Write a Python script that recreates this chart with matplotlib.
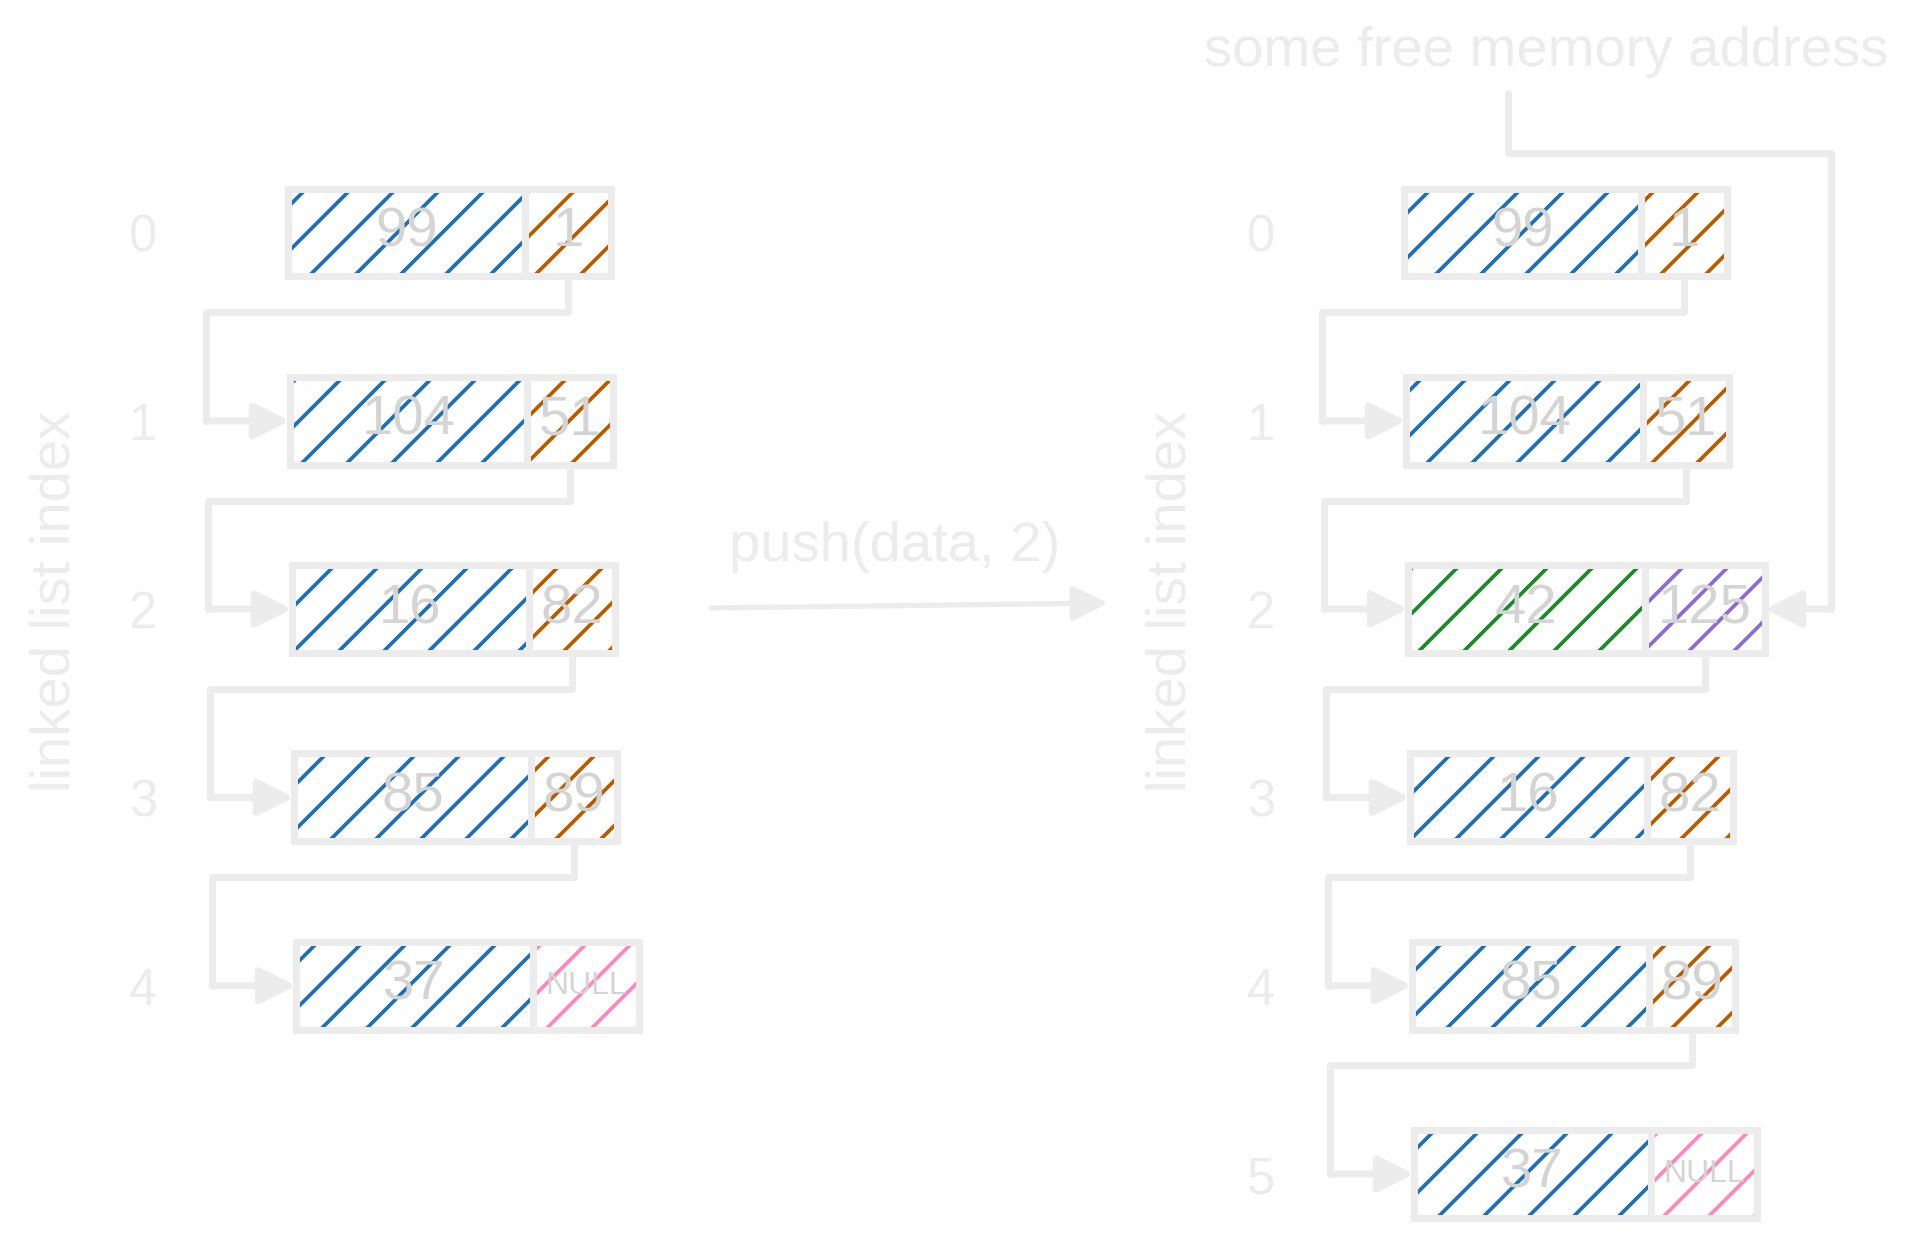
import matplotlib
matplotlib.use("Agg")
import matplotlib.pyplot as plt


# linked list before / after the push
values_before = [99, 104, 16, 85, 37]
next_before = ["1", "51", "82", "89", "NULL"]
values_after = [99, 104, 42, 16, 85, 37]
next_after = ["1", "51", "125", "82", "89", "NULL"]
inserted_row = 2

op_label = "push(data, 2)"
free_label = "some free memory address"
axis_label = "linked list index"

W, H, DPI = 1906, 1237, 135

light = "#ececec"
value_txt = "#d4d4d4"
blue = "#1f6fb4"
orange = "#b85c00"
green = "#1a8a2a"
purple = "#8a6bd8"
pink = "#ff88b8"

plt.rcParams["font.family"] = ["Liberation Sans", "DejaVu Sans"]
plt.rcParams["hatch.linewidth"] = 2.0

# vertical layout: row centers in pixels
row0_px = 232.5
row_px = 188.3
y_top = -row0_px / row_px
y_bot = (H - row0_px) / row_px

bar_h = 0.467
data_w = 237
lw = 3.7
arrow_style = "-|>,head_length=0.8,head_width=0.4"


def ptr_width(lab):
    if lab == "NULL":
        return 106
    if len(lab) > 2:
        return 120
    return 86


fig = plt.figure(figsize=(W / DPI, H / DPI), dpi=DPI)

bg = fig.add_axes([0, 0, 1, 1])
bg.set_xlim(0, W)
bg.set_ylim(H, 0)
bg.axis("off")


def panel(x0, x1, vals, nexts, box_x0, label_x, new=None):
    ax = fig.add_axes([x0 / W, 0, (x1 - x0) / W, 1])
    ax.set_facecolor("none")
    ax.set_xlim(x0, x1)
    ax.set_ylim(y_bot, y_top)
    for s in ax.spines.values():
        s.set_visible(False)
    ax.set_xticks([])

    rows = list(range(len(vals)))
    ax.set_yticks(rows)
    ax.tick_params(axis="y", length=0, pad=7, labelsize=27, labelcolor=light)
    ax.set_ylabel(axis_label, fontsize=30, color=light, va="center")
    ax.yaxis.set_label_coords((label_x - x0) / (x1 - x0), 1 - 601 / H)

    lefts = [box_x0 + 2 * i for i in rows]
    pw = [ptr_width(n) for n in nexts]
    plefts = [l + data_w for l in lefts]
    vcol = [green if i == new else blue for i in rows]
    pcol = []
    for i, n in zip(rows, nexts):
        if i == new:
            pcol.append(purple)
        elif n == "NULL":
            pcol.append(pink)
        else:
            pcol.append(orange)

    # hatched cells
    ax.barh(rows, data_w, left=lefts, height=bar_h, color="white",
            edgecolor=vcol, hatch="/", linewidth=0)
    ax.barh(rows, pw, left=plefts, height=bar_h, color="white",
            edgecolor=pcol, hatch="/", linewidth=0)
    # cell borders
    ax.barh(rows, data_w, left=lefts, height=bar_h, fill=False,
            edgecolor=light, linewidth=lw)
    ax.barh(rows, pw, left=plefts, height=bar_h, fill=False,
            edgecolor=light, linewidth=lw)

    for i in rows:
        ax.text(lefts[i] + data_w / 2, i, str(vals[i]), ha="center",
                va="center", fontsize=30, color=value_txt)
        fs = 17 if nexts[i] == "NULL" else 30
        ax.text(plefts[i] + pw[i] / 2, i, nexts[i], ha="center",
                va="center", fontsize=fs, color=value_txt)

    # next-pointer connectors
    for i in rows[:-1]:
        sx = plefts[i] + pw[i] / 2
        sy = i + bar_h / 2
        ty = sy + 0.19
        lx = lefts[i + 1] - 84
        ax.plot([sx, sx, lx, lx], [sy, ty, ty, i + 1], color=light, lw=lw,
                solid_joinstyle="round", solid_capstyle="round")
        ax.annotate("", xy=(lefts[i + 1], i + 1), xytext=(lx, i + 1),
                    arrowprops=dict(arrowstyle=arrow_style, mutation_scale=20,
                                    color=light, lw=lw, shrinkA=0, shrinkB=0))
    return ax, lefts, pw


ax1, _, _ = panel(170, 730, values_before, next_before, 288, 56)
ax2, lefts2, pw2 = panel(1288, W, values_after, next_after, 1404, 1171,
                         new=inserted_row)

# new node comes from some free memory address
ax2.text(1546, -0.96, free_label, ha="center", va="center", fontsize=30,
         color=light)
right_x = 1831
ax2.plot([1508, 1508, right_x, right_x], [-0.74, -0.42, -0.42, inserted_row],
         color=light, lw=lw, solid_joinstyle="round", solid_capstyle="round",
         clip_on=False)
tip_x = lefts2[inserted_row] + data_w + pw2[inserted_row]
ax2.annotate("", xy=(tip_x, inserted_row), xytext=(right_x, inserted_row),
             arrowprops=dict(arrowstyle=arrow_style, mutation_scale=20,
                             color=light, lw=lw, shrinkA=0, shrinkB=0))

# operation arrow in the middle
bg.text(895, 547, op_label, ha="center", va="center", fontsize=30, color=light)
bg.annotate("", xy=(1108, 603), xytext=(711, 608),
            arrowprops=dict(arrowstyle=arrow_style, mutation_scale=20,
                            color=light, lw=2.8, shrinkA=0, shrinkB=0))

fig.savefig("out.png", dpi=DPI)
